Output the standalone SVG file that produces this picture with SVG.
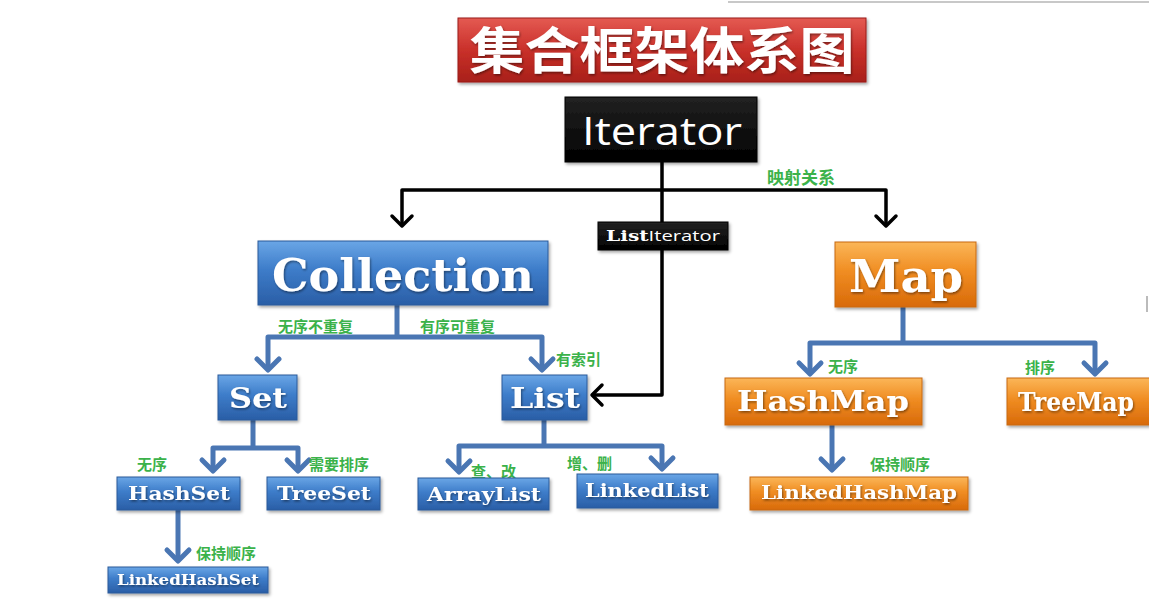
<svg xmlns="http://www.w3.org/2000/svg" width="1149" height="602" viewBox="0 0 1149 602">
<defs>
<linearGradient id="gBlue" x1="0" y1="0" x2="0" y2="1"><stop offset="0" stop-color="#6aa6e6"/><stop offset="0.45" stop-color="#3d7cc9"/><stop offset="1" stop-color="#2a5ea6"/></linearGradient>
<linearGradient id="gOrange" x1="0" y1="0" x2="0" y2="1"><stop offset="0" stop-color="#fbb658"/><stop offset="0.45" stop-color="#f08d22"/><stop offset="1" stop-color="#d86a0a"/></linearGradient>
<linearGradient id="gRed" x1="0" y1="0" x2="0" y2="1"><stop offset="0" stop-color="#e45a52"/><stop offset="0.5" stop-color="#c9302a"/><stop offset="1" stop-color="#a82019"/></linearGradient>
<linearGradient id="gBlack" x1="0" y1="0" x2="0" y2="1"><stop offset="0" stop-color="#222"/><stop offset="1" stop-color="#000"/></linearGradient>
<filter id="shadow" x="-10%" y="-20%" width="120%" height="150%"><feDropShadow dx="1.5" dy="2" stdDeviation="1.5" flood-color="#000" flood-opacity="0.35"/></filter>
<filter id="tshadow" x="-5%" y="-20%" width="110%" height="150%"><feDropShadow dx="1" dy="1.5" stdDeviation="0.8" flood-color="#000" flood-opacity="0.45"/></filter>
<marker id="blueHead" markerUnits="userSpaceOnUse" markerWidth="30" markerHeight="30" viewBox="-15 -15 30 30" refX="0" refY="0" orient="auto" overflow="visible"><path d="M-11 -11 L0 0 L-11 11" fill="none" stroke="#4a76b3" stroke-width="5" stroke-linecap="round" stroke-linejoin="round"/></marker>
<marker id="blackHead" markerUnits="userSpaceOnUse" markerWidth="30" markerHeight="30" viewBox="-15 -15 30 30" refX="0" refY="0" orient="auto" overflow="visible"><path d="M-10 -10 L0 0 L-10 10" fill="none" stroke="#000" stroke-width="3.5" stroke-linecap="round" stroke-linejoin="round"/></marker>
</defs>
<style>
.blue{fill:url(#gBlue);stroke:#2a5a9a;stroke-width:1;filter:url(#shadow)}
.orange{fill:url(#gOrange);stroke:#c86a10;stroke-width:1;filter:url(#shadow)}
.red{fill:url(#gRed);stroke:#9a1c18;stroke-width:1;filter:url(#shadow)}
.black{fill:url(#gBlack);stroke:#000;stroke-width:1;filter:url(#shadow)}
.nt{font-family:"DejaVu Serif","Liberation Serif",serif;font-weight:bold;fill:#fff;text-anchor:middle;filter:url(#tshadow)}
.st{font-family:"Open Sans","Liberation Sans",sans-serif;fill:#fff;text-anchor:middle}
.lab{font-family:"Noto Sans CJK SC",sans-serif;font-weight:bold;fill:#3bb24a;font-size:15px}
.bc{fill:none;stroke:#4a76b3;stroke-width:5;stroke-linejoin:round}
.kc{fill:none;stroke:#000;stroke-width:3.5;stroke-linejoin:round}
</style>
<rect width="1149" height="602" fill="#fff"/>
<line x1="728" y1="2" x2="1149" y2="2" stroke="#c8c8c8" stroke-width="2"/>
<line x1="1147" y1="296" x2="1147" y2="312" stroke="#bbb" stroke-width="2"/>

<g id="connectors">
<path class="kc" d="M662 162 V190"/>
<path class="kc" d="M662 190 H402 V226" marker-end="url(#blackHead)"/>
<path class="kc" d="M662 190 H886 V226" marker-end="url(#blackHead)"/>
<path class="kc" d="M662 190 V222"/>
<path class="kc" d="M662 250 V395 H592" marker-end="url(#blackHead)"/>
<path class="bc" d="M397 305 V337"/>
<path class="bc" d="M397 337 H268 V370" marker-end="url(#blueHead)"/>
<path class="bc" d="M397 337 H542 V370" marker-end="url(#blueHead)"/>
<path class="bc" d="M253 420 V448"/>
<path class="bc" d="M253 448 H213 V471" marker-end="url(#blueHead)"/>
<path class="bc" d="M253 448 H298 V471" marker-end="url(#blueHead)"/>
<path class="bc" d="M178 510 V561" marker-end="url(#blueHead)"/>
<path class="bc" d="M544 420 V446"/>
<path class="bc" d="M544 446 H459 V472" marker-end="url(#blueHead)"/>
<path class="bc" d="M544 446 H662 V469" marker-end="url(#blueHead)"/>
<path class="bc" d="M903 307 V343"/>
<path class="bc" d="M903 343 H810 V374" marker-end="url(#blueHead)"/>
<path class="bc" d="M903 343 H1095 V374" marker-end="url(#blueHead)"/>
<path class="bc" d="M832 425 V470" marker-end="url(#blueHead)"/>
</g>

<g id="labels">
<text class="lab" x="767" y="184" style="font-size:17px">映射关系</text>
<text class="lab" x="278" y="332">无序不重复</text>
<text class="lab" x="420" y="332">有序可重复</text>
<text class="lab" x="556" y="365">有索引</text>
<text class="lab" x="137" y="470">无序</text>
<text class="lab" x="309" y="470">需要排序</text>
<text class="lab" x="196" y="559">保持顺序</text>
<text class="lab" x="471" y="477">查、改</text>
<text class="lab" x="567" y="469">增、删</text>
<text class="lab" x="828" y="372">无序</text>
<text class="lab" x="1025" y="373">排序</text>
<text class="lab" x="870" y="470">保持顺序</text>
</g>

<g id="title"><rect class="red" x="458" y="18" width="408" height="64"/><text x="662" y="69" font-family="Noto Sans CJK SC, sans-serif" font-weight="bold" font-size="50" fill="#fff" text-anchor="middle" textLength="385" lengthAdjust="spacingAndGlyphs" filter="url(#tshadow)">集合框架体系图</text></g>
<g id="iterator"><rect class="black" x="565" y="97" width="192" height="65"/><text class="st" x="662" y="145" font-size="38" textLength="160" lengthAdjust="spacingAndGlyphs">Iterator</text></g>
<g id="listiterator"><rect class="black" x="598" y="222" width="130" height="28"/><text x="663" y="241" font-size="14" fill="#fff" text-anchor="middle" textLength="114" lengthAdjust="spacingAndGlyphs"><tspan font-family="DejaVu Serif, serif" font-weight="bold">List</tspan><tspan font-family="Open Sans, sans-serif">Iterator</tspan></text></g>
<g id="collection"><rect class="blue" x="258" y="241" width="290" height="64"/><text class="nt" x="403" y="291" font-size="44" textLength="262" lengthAdjust="spacingAndGlyphs">Collection</text></g>
<g id="map"><rect class="orange" x="835" y="242" width="141" height="65"/><text class="nt" x="906" y="292" font-size="44" textLength="114" lengthAdjust="spacingAndGlyphs">Map</text></g>
<g id="set"><rect class="blue" x="218" y="375" width="79" height="45"/><text class="nt" x="258" y="408" font-size="28" textLength="58" lengthAdjust="spacingAndGlyphs">Set</text></g>
<g id="list"><rect class="blue" x="502" y="375" width="85" height="45"/><text class="nt" x="545" y="408" font-size="28" textLength="70" lengthAdjust="spacingAndGlyphs">List</text></g>
<g id="hashset"><rect class="blue" x="117" y="477" width="123" height="33"/><text class="nt" x="179" y="500" font-size="18" textLength="102" lengthAdjust="spacingAndGlyphs">HashSet</text></g>
<g id="treeset"><rect class="blue" x="267" y="477" width="113" height="33"/><text class="nt" x="324" y="500" font-size="18" textLength="94" lengthAdjust="spacingAndGlyphs">TreeSet</text></g>
<g id="linkedhashset"><rect class="blue" x="108" y="567" width="160" height="26"/><text class="nt" x="188" y="585" font-size="14" textLength="142" lengthAdjust="spacingAndGlyphs">LinkedHashSet</text></g>
<g id="arraylist"><rect class="blue" x="418" y="478" width="131" height="32"/><text class="nt" x="484" y="501" font-size="18" textLength="114" lengthAdjust="spacingAndGlyphs">ArrayList</text></g>
<g id="linkedlist"><rect class="blue" x="577" y="474" width="141" height="34"/><text class="nt" x="647" y="497" font-size="18" textLength="124" lengthAdjust="spacingAndGlyphs">LinkedList</text></g>
<g id="hashmap"><rect class="orange" x="725" y="378" width="197" height="47"/><text class="nt" x="823" y="411" font-size="28" textLength="172" lengthAdjust="spacingAndGlyphs">HashMap</text></g>
<g id="treemap"><rect class="orange" x="1007" y="378" width="200" height="47"/><text class="nt" x="1018" y="411" font-size="26" style="text-anchor:start" textLength="116" lengthAdjust="spacingAndGlyphs">TreeMap</text></g>
<g id="linkedhashmap"><rect class="orange" x="750" y="477" width="218" height="33"/><text class="nt" x="859" y="499" font-size="18" textLength="196" lengthAdjust="spacingAndGlyphs">LinkedHashMap</text></g>
</svg>
